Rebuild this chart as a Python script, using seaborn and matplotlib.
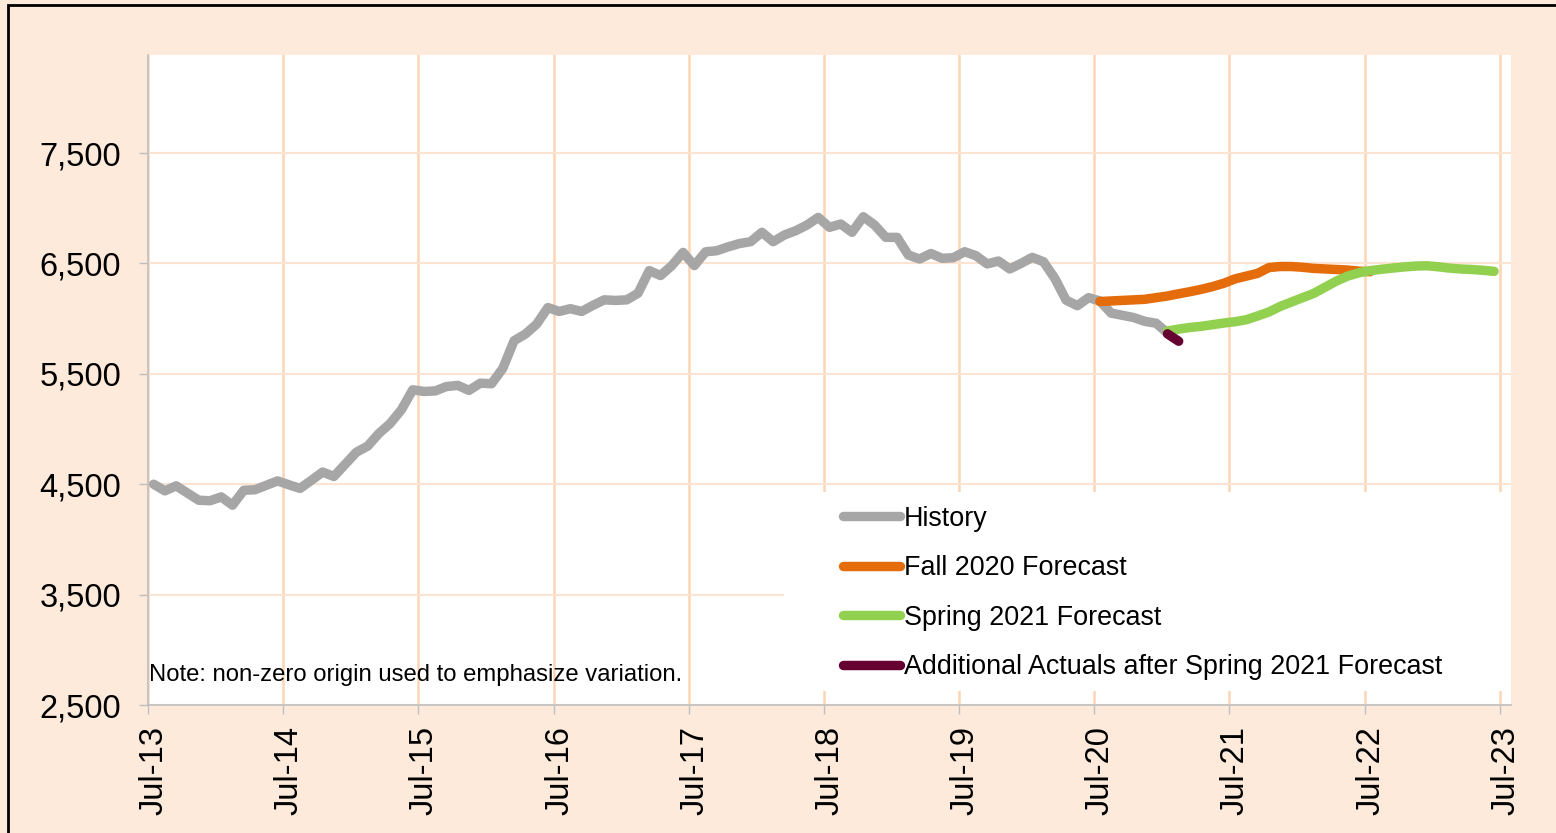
import numpy as np
import pandas as pd
import matplotlib
matplotlib.use("Agg")
import matplotlib.pyplot as plt
import seaborn as sns
from matplotlib.patches import Rectangle
from matplotlib.transforms import ScaledTranslation

# ---------------- data ----------------
history_start = "2013-07"
history = [4500, 4440, 4485, 4420, 4355, 4350, 4385, 4310, 4445, 4450,
           4490, 4530, 4495, 4462, 4535, 4610, 4570, 4680, 4790, 4845,
           4960, 5050, 5175, 5355, 5340, 5345, 5385, 5395, 5350, 5415,
           5410, 5550, 5800, 5860, 5950, 6100, 6065, 6090, 6065, 6120,
           6170, 6165, 6170, 6230, 6435, 6390, 6480, 6600, 6480, 6605,
           6615, 6650, 6680, 6697, 6782, 6697, 6758, 6796, 6848, 6917,
           6827, 6857, 6782, 6923, 6848, 6736, 6736, 6576, 6540, 6590,
           6546, 6552, 6606, 6570, 6495, 6522, 6450, 6500, 6555, 6515,
           6365, 6168, 6117, 6190, 6160, 6050, 6030, 6010, 5975, 5958,
           5870]

fall_start = "2020-07"
fall2020 = [6155, 6160, 6165, 6170, 6175, 6190, 6205, 6225, 6244, 6265,
            6290, 6320, 6360, 6385, 6410, 6462, 6472, 6472, 6465, 6455,
            6450, 6445, 6440, 6430, 6425]

spring_start = "2021-01"
spring2021 = [5888, 5905, 5920, 5930, 5945, 5960, 5972, 5990, 6024, 6060,
              6110, 6150, 6190, 6229, 6285, 6340, 6385, 6415, 6435, 6447,
              6458, 6468, 6476, 6479, 6470, 6458, 6450, 6445, 6438, 6428]

actuals_start = "2021-01"
actuals = [5862, 5795]

series_names = ["History", "Fall 2020 Forecast", "Spring 2021 Forecast",
                "Additional Actuals after Spring 2021 Forecast"]
series_colors = ["#A6A6A6", "#E46C0A", "#92D050", "#660033"]

ytick_values = [2500, 3500, 4500, 5500, 6500, 7500]
ytick_labels = ["2,500", "3,500", "4,500", "5,500", "6,500", "7,500"]
xtick_labels = ["Jul-13", "Jul-14", "Jul-15", "Jul-16", "Jul-17", "Jul-18",
                "Jul-19", "Jul-20", "Jul-21", "Jul-22", "Jul-23"]
note_text = "Note: non-zero origin used to emphasize variation."

# ---------------- build table ----------------
axis_start = pd.Period("2013-07", freq="M")


def month_pos(start, n):
    p0 = pd.Period(start, freq="M")
    off = (p0 - axis_start).n
    return np.arange(n) + off + 0.5   # points centred in monthly slots


frames = []
for name, start, vals in zip(series_names,
                             [history_start, fall_start, spring_start, actuals_start],
                             [history, fall2020, spring2021, actuals]):
    frames.append(pd.DataFrame({"x": month_pos(start, len(vals)),
                                "value": vals, "series": name}))
df = pd.concat(frames, ignore_index=True)

# ---------------- style ----------------
sns.set_theme(style="white")
plt.rcParams["font.family"] = ["Liberation Sans", "DejaVu Sans"]

W, H = 1556, 833
fig = plt.figure(figsize=(W / 100, H / 100), dpi=100, facecolor="#FDEADA")
L, R, T, B = 148, 1511, 55, 705
ax = fig.add_axes([L / W, 1 - B / H, (R - L) / W, (B - T) / H])
ax.set_facecolor("white")

sns.lineplot(data=df, x="x", y="value", hue="series", hue_order=series_names,
             palette=series_colors, linewidth=6.8, estimator=None, sort=True,
             legend=False, ax=ax, solid_capstyle="round")

ax.set_xlim(0, 121)
ax.set_ylim(2500, 8388)
ax.set_xticks(np.arange(len(xtick_labels)) * 12)
ax.set_xticklabels(xtick_labels, rotation=90, fontsize=23.5)
ax.set_yticks(ytick_values)
ax.set_yticklabels(ytick_labels, fontsize=23.5)
ax.set_xlabel("")
ax.set_ylabel("")

ax.set_axisbelow(True)
ax.xaxis.grid(True, color="#FCD5B4", linewidth=1.8)
ax.yaxis.grid(True, color="#FDE4D2", linewidth=1.5)

for s in ["top", "right"]:
    ax.spines[s].set_visible(False)
for s in ["left", "bottom"]:
    ax.spines[s].set_color("#BFBFBF")
    ax.spines[s].set_linewidth(1.2)

ax.tick_params(axis="both", which="major", direction="out", length=6.5,
               width=1, color="#BFBFBF", labelcolor="black")
ax.tick_params(axis="y", pad=13, left=True)
ax.tick_params(axis="x", pad=8.5, bottom=True)

for lab in ax.get_xticklabels():
    lab.set_transform(lab.get_transform() + ScaledTranslation(6 / 100, 0, fig.dpi_scale_trans))

# white legend panel covering the gridlines
lx0, lx1, ly0, ly1 = 784, 1511, 492, 691
ax.add_patch(Rectangle(((lx0 - L) / (R - L), (B - ly1) / (B - T)),
                       (lx1 - lx0) / (R - L), (ly1 - ly0) / (B - T),
                       transform=ax.transAxes, facecolor="white",
                       edgecolor="none", zorder=1))

handles = ax.get_lines()[:4]
leg = ax.legend(handles, series_names, loc="center left",
                bbox_to_anchor=(843 / W, 1 - 593 / H),
                bbox_transform=fig.transFigure, frameon=False, fontsize=19.4,
                handlelength=2.1, handletextpad=0.15, labelspacing=0.87,
                borderpad=0, borderaxespad=0)
for t in leg.get_texts():
    t.set_color("black")

fig.text(149 / W, 1 - 681 / H, note_text, fontsize=17.2, va="baseline",
         ha="left", color="black")

fig.add_artist(Rectangle((8 / W, -0.1), 1.2, 1 - 5 / H + 0.1,
                         transform=fig.transFigure, fill=False,
                         edgecolor="black", linewidth=2, clip_on=False))

fig.savefig("out.png", dpi=100, facecolor=fig.get_facecolor())
